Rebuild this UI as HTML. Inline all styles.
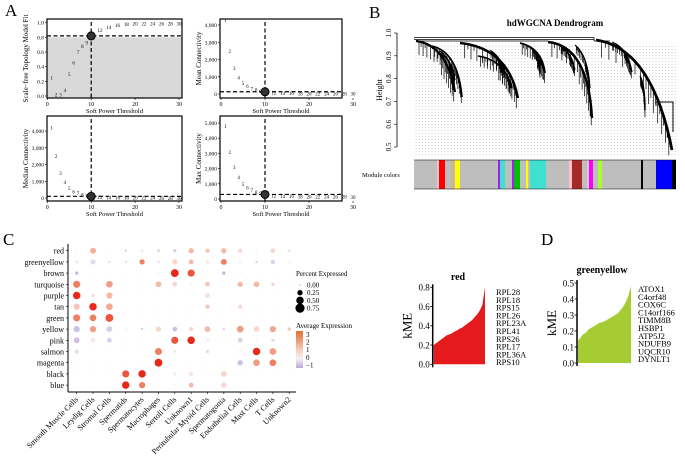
<!DOCTYPE html>
<html><head><meta charset="utf-8">
<style>
html,body{margin:0;padding:0;background:#fff;}
svg{display:block;font-family:"Liberation Serif",serif;}
</style></head>
<body>
<svg id="fig" width="685" height="468" viewBox="0 0 685 468" xmlns="http://www.w3.org/2000/svg"></svg>
<script>
// ---------- Panel A data ----------
const powers = [1,2,3,4,5,6,7,8,9,10,12,14,16,18,20,22,24,26,28,30];
const sftFit = [0.25,0.02,0.02,0.08,0.30,0.46,0.60,0.68,0.73,0.82,0.90,0.94,0.97,0.98,0.99,0.99,0.99,0.99,0.99,0.99];
const meanK = [4300,2500,1500,950,650,450,330,250,180,130,80,60,45,35,30,25,22,20,18,16];
const medianK = [4200,2500,1500,950,600,400,300,220,150,100,60,40,30,25,20,18,16,14,12,10];
const maxK = [4800,3100,2100,1450,1000,750,580,450,380,300,220,200,190,180,170,165,160,155,150,145];
// ---------- Panel C data ----------
const modules = ["red","greenyellow","brown","turquoise","purple","tan","green","yellow","pink","salmon","magenta","black","blue"];
const cellTypes = ["Smooth Muscle Cells","Leydig Cells","Stromal Cells","Spermatids","Spermatocytes","Macrophages","Sertoli Cells","Unknown1","Peritubular Myoid Cells","Spermatogonia","Endothelial Cells","Mast Cells","T Cells","Unknown2"];
const avgExpr = [
 [0,1.2,0,-0.5,-0.3,-0.3,-0.5,1,0.8,1,0.5,0,0.5,0.5],
 [-0.3,-0.3,-0.3,-0.3,2,-0.3,0.5,1,0.2,2,0,-0.5,-0.5,0],
 [-0.8,0,0,0,0,0,3,2.5,0,-0.8,0,0,0,0],
 [2,0,1.5,0,0,1,0.5,0,0.8,0,1,1,0.5,0],
 [3,0.5,1,0,0,0,0,0,0.3,0,0,0,0,0],
 [0.8,3,1.3,0,0,0,0,0,0.8,0,0.5,0,0,0],
 [2,2,2.5,0,0,0,0,0,0,0,0,0,0,0],
 [-0.7,1.5,-0.5,0,-0.5,0.5,-0.7,0.5,1,-0.5,1.5,0.5,1.3,0.8],
 [-0.7,0.2,-0.5,0,0,0,2.5,3,0.1,0,-0.5,0,-0.3,0],
 [-0.3,0,0,0,0,2,-0.3,0,0.5,0,0,3,1.5,0],
 [0,0,0,0,0,3,0,0,0,0,-0.7,1.5,2,0],
 [0,0,0,2.5,3,0,0.2,0.3,0,0.5,0,0,0,0],
 [0,0,0,3,2,0,0,1,0,0.5,0,0,0,0]
];
const pctExpr = [
 [0.05,0.3,0.05,0.05,0.05,0.1,0.1,0.25,0.15,0.25,0.15,0.05,0.2,0.05],
 [0.05,0.25,0.05,0.05,0.25,0.05,0.25,0.2,0.1,0.3,0.1,0.05,0.15,0.05],
 [0.1,0.02,0.02,0.02,0.02,0.05,0.55,0.45,0.02,0.1,0.05,0.02,0.02,0.02],
 [0.45,0.02,0.4,0.02,0.02,0.3,0.2,0.05,0.2,0.05,0.25,0.3,0.1,0.02],
 [0.5,0.1,0.35,0.02,0.02,0.02,0.02,0.02,0.25,0.02,0.02,0.02,0.02,0.02],
 [0.35,0.5,0.4,0.02,0.02,0.02,0.02,0.02,0.15,0.02,0.15,0.02,0.02,0.02],
 [0.45,0.4,0.55,0.02,0.02,0.02,0.02,0.02,0.02,0.02,0.02,0.02,0.02,0.02],
 [0.35,0.35,0.3,0.05,0.05,0.25,0.2,0.15,0.3,0.05,0.4,0.3,0.35,0.1],
 [0.3,0.2,0.2,0.02,0.02,0.02,0.45,0.5,0.1,0.05,0.2,0.05,0.1,0.02],
 [0.15,0.02,0.02,0.02,0.02,0.45,0.05,0.02,0.1,0.02,0.1,0.5,0.4,0.02],
 [0.02,0.02,0.02,0.02,0.02,0.55,0.02,0.02,0.02,0.02,0.25,0.4,0.4,0.02],
 [0.02,0.02,0.02,0.45,0.5,0.02,0.1,0.15,0.02,0.3,0.02,0.02,0.02,0.02],
 [0.02,0.02,0.02,0.5,0.35,0.02,0.05,0.2,0.02,0.25,0.02,0.02,0.02,0.02]
];
// ---------- Panel D data ----------
const redKME = [0.20,0.22,0.24,0.26,0.28,0.30,0.31,0.32,0.34,0.35,0.37,0.38,0.40,0.42,0.44,0.46,0.49,0.52,0.56,0.62,0.80];
const redGenes = ["RPL28","RPL18","RPS15","RPL26","RPL23A","RPL41","RPS26","RPL17","RPL36A","RPS10"];
const gyKME = [0.14,0.16,0.18,0.19,0.21,0.22,0.23,0.24,0.25,0.255,0.26,0.27,0.28,0.29,0.30,0.31,0.33,0.35,0.38,0.42,0.48];
const gyGenes = ["ATOX1","C4orf48","COX6C","C14orf166","TIMM8B","HSBP1","ATP5J2","NDUFB9","UQCR10","DYNLT1"];

const NS="http://www.w3.org/2000/svg";
const svg=document.getElementById('fig');
function mk(tag,attrs,name,parent,txt){
  const el=document.createElementNS(NS,tag);
  for(const k in attrs) el.setAttribute(k,attrs[k]);
  
  
  if(txt!==undefined) el.textContent=txt;
  (parent||svg).appendChild(el);
  return el;
}
function lin(d0,d1,r0,r1){return v=>r0+(v-d0)*(r1-r0)/(d1-d0);}

mk('text',{x:5,y:16,'font-size':17},'panel-label-a',svg,'A');
mk('text',{x:369,y:18,'font-size':17},'panel-label-b',svg,'B');
mk('text',{x:3,y:245,'font-size':17},'panel-label-c',svg,'C');
mk('text',{x:541,y:245,'font-size':17},'panel-label-d',svg,'D');

// ---------- Panel A ----------
function sftPanel(opt){
  const g=mk('g',{},opt.name);
  const X=lin(0,30,opt.x0,opt.x30), Y=lin(0,opt.ymax,opt.yb,opt.yt);
  if(opt.shade) mk('rect',{x:opt.L,y:Y(0.8),width:opt.R-opt.L,height:opt.B-Y(0.8),fill:'#d9d9d9'},'shaded-region',g);
  mk('rect',{x:opt.L,y:opt.T,width:opt.R-opt.L,height:opt.B-opt.T,fill:'none',stroke:'#000','stroke-width':1.2},'plot-frame',g);
  opt.yticks.forEach((t,i)=>{
    mk('line',{x1:opt.L-2,x2:opt.L,y1:Y(t),y2:Y(t),stroke:'#000','stroke-width':0.6},'y-tick',g);
    mk('text',{x:opt.L-3,y:Y(t)+2,'font-size':5.5,'text-anchor':'end'},'y-tick-label',g,opt.ylabels[i]);
  });
  [0,10,20,30].forEach(t=>{
    mk('line',{x1:X(t),x2:X(t),y1:opt.B,y2:opt.B+2,stroke:'#000','stroke-width':0.6},'x-tick',g);
    mk('text',{x:X(t),y:opt.B+8,'font-size':6,'text-anchor':'middle'},'x-tick-label',g,String(t));
  });
  mk('text',{x:(opt.L+opt.R)/2,y:opt.B+15,'font-size':6.5,'text-anchor':'middle'},'x-axis-title',g,'Soft Power Threshold');
  mk('text',{x:0,y:0,'font-size':7,'text-anchor':'middle',transform:`translate(${opt.L-19},${(opt.T+opt.B)/2}) rotate(-90)`},'y-axis-title',g,opt.ytitle);
  const hy=Y(opt.hline);
  mk('line',{x1:opt.L,x2:opt.R,y1:hy,y2:hy,stroke:'#000','stroke-width':1.2,'stroke-dasharray':'4,2.5'},'threshold-hline',g);
  mk('line',{x1:X(10),x2:X(10),y1:opt.T+3,y2:opt.B,stroke:'#000','stroke-width':1.2,'stroke-dasharray':'4,2.5'},'threshold-vline',g);
  opt.vals.forEach((v,i)=>{
    const p=powers[i];
    if(p===10){
      mk('circle',{cx:X(p),cy:Y(v),r:4,fill:'#333',stroke:'#000','stroke-width':1},'selected-power-marker',g);
    } else {
      mk('text',{x:X(p),y:Y(v)+2,'font-size':5,'text-anchor':'middle'},'power-label',g,String(p));
    }
  });
}
sftPanel({name:'sft-fit-plot',L:47,R:182,T:19,B:98,x0:47.3,x30:179,yb:96,yt:22.7,ymax:1,shade:true,hline:0.82,
  yticks:[0,0.2,0.4,0.6,0.8,1.0],ylabels:['0.0','0.2','0.4','0.6','0.8','1.0'],ytitle:'Scale−free Topology Model Fit',vals:sftFit});
sftPanel({name:'mean-connectivity-plot',L:220,R:342,T:19,B:98,x0:221,x30:353,yb:94,yt:25,ymax:4000,hline:130,
  yticks:[0,1000,2000,3000,4000],ylabels:['0','1,000','2,000','3,000','4,000'],ytitle:'Mean Connectivity',vals:meanK});
sftPanel({name:'median-connectivity-plot',L:47,R:182,T:116,B:201,x0:47.3,x30:179,yb:198,yt:131,ymax:4000,hline:100,
  yticks:[0,1000,2000,3000,4000],ylabels:['0','1,000','2,000','3,000','4,000'],ytitle:'Median Connectivity',vals:medianK});
sftPanel({name:'max-connectivity-plot',L:220,R:342,T:116,B:201,x0:221,x30:353,yb:199,yt:123,ymax:5000,hline:300,
  yticks:[0,1000,2000,3000,4000,5000],ylabels:['0','1,000','2,000','3,000','4,000','5,000'],ytitle:'Max Connectivity',vals:maxK});

// ---------- Panel B ----------
(function(){
  const g=mk('g',{},'dendrogram-panel');
  const Y=lin(0.5,1.0,147,33);
  mk('text',{x:555,y:26,'font-size':9,'font-weight':'bold','text-anchor':'middle'},'dendrogram-title',g,'hdWGCNA Dendrogram');
  mk('line',{x1:397,x2:397,y1:Y(1.0),y2:Y(0.5),stroke:'#000','stroke-width':0.8},'height-axis',g);
  [0.5,0.6,0.7,0.8,0.9,1.0].forEach(t=>{
    mk('line',{x1:394,x2:397,y1:Y(t),y2:Y(t),stroke:'#000','stroke-width':0.6},'height-tick',g);
    mk('text',{x:0,y:0,'font-size':7,'text-anchor':'middle',transform:`translate(391,${Y(t)}) rotate(-90)`},'height-tick-label',g,t.toFixed(1));
  });
  mk('text',{x:0,y:0,'font-size':8,'text-anchor':'middle',transform:`translate(382,90) rotate(-90)`},'height-axis-title',g,'Height');
  for(let x=416;x<676;x+=3.2){
    mk('line',{x1:x,x2:x,y1:46,y2:156,stroke:'#777','stroke-width':0.5,'stroke-dasharray':'0.7,2.3'},'leaf-guide',g);
  }
  mk('path',{d:'M414,37.5 H594 M414,39.5 H594 M416,41 H548 M594,37.5 V41 M594,41 H610',fill:'none',stroke:'#000','stroke-width':0.8},'dendrogram-top-links',g);
  // main curves as quadratic beziers [x0,y0,cx,cy,x1,y1,width]
  const curves=[
    [416,41,447,45,455,92,2.2],[432,46,458,52,462,97,1.6],[440,51,452,60,455,80,1.2],
    [460,43,508,48,518,98,2.4],[478,56,505,60,512,88,1.6],[490,50,500,56,505,70,1.0],
    [520,43,542,48,545,73,1.8],[532,48,540,55,540,72,1.0],
    [548,42,588,46,592,118,2.4],[575,45,588,55,590,88,1.2],[560,46,572,52,575,70,1.0],
    [596,40,652,48,672,150,2.8],[612,42,628,48,632,72,1.2],[640,76,645,85,645,110,1.4]
  ];
  curves.forEach(c=>{
    mk('path',{d:`M${c[0]},${c[1]} Q${c[2]},${c[3]} ${c[4]},${c[5]}`,fill:'none',stroke:'#000','stroke-width':c[6]},'dendrogram-branch',g);
    // hanging leaves along the curve
    let hair='';
    for(let t=0.05;t<0.95;t+=0.035){
      const x=(1-t)*(1-t)*c[0]+2*t*(1-t)*c[2]+t*t*c[4];
      const y=(1-t)*(1-t)*c[1]+2*t*(1-t)*c[3]+t*t*c[5];
      const L=2+((Math.floor(t*97)%7))*1.3*c[6];
      hair+=`M${x.toFixed(1)},${y.toFixed(1)} V${(y+L).toFixed(1)} `;
    }
    mk('path',{d:hair,fill:'none',stroke:'#000','stroke-width':0.7},'dendrogram-leaves',g);
  });
  mk('path',{d:'M656,102 H673 V132 M656,102 V106',fill:'none',stroke:'#000','stroke-width':1},'dendrogram-branch-right',g);
  const bx0=414,bx1=676;
  mk('rect',{x:bx0,y:160,width:bx1-bx0,height:29,fill:'#bebebe'},'module-color-bar',g);
  const segs=[[437,439,'#ffc0cb'],[439,445,'#ff0000'],[451,454,'#d2b48c'],[455,460,'#ffff00'],[498,500,'#a020f0'],[500,505,'#40e0d0'],[512,514,'#a020f0'],[514,520,'#00c000'],[526,528,'#ffff00'],[530,546,'#40e0d0'],[569,572,'#ffc0cb'],[572,582,'#a52a2a'],[587,589,'#ffc0cb'],[589,593,'#ff00ff'],[598,602,'#adff2f'],[641,643,'#000000'],[656,672,'#0000ff'],[672,676,'#000000']];
  segs.forEach(s=>mk('rect',{x:s[0],y:160,width:s[1]-s[0],height:29,fill:s[2]},'module-segment',g));
  mk('line',{x1:bx0,x2:bx1,y1:160,y2:160,stroke:'#000','stroke-width':0.6},'bar-border-top',g);
  mk('line',{x1:bx0,x2:bx1,y1:189,y2:189,stroke:'#000','stroke-width':0.6},'bar-border-bottom',g);
  mk('text',{x:362,y:177,'font-size':6.5,'text-anchor':'start'},'module-colors-label',g,'Module colors');
})();

// ---------- Panel C ----------
(function(){
  const g=mk('g',{},'dotplot-panel');
  const X=i=>76.7+i*16.35, Y=j=>250.7+j*11.2;
  mk('line',{x1:68,x2:68,y1:244,y2:392,stroke:'#000','stroke-width':1},'y-axis-line',g);
  mk('line',{x1:68,x2:296,y1:392,y2:392,stroke:'#000','stroke-width':1},'x-axis-line',g);
  function col(v){
    const pos=[[-1,[185,170,220]],[0,[250,244,244]],[1,[244,186,168]],[2,[238,128,98]],[3,[232,40,24]]];
    v=Math.max(-1,Math.min(3,v));
    for(let k=0;k<pos.length-1;k++){
      if(v<=pos[k+1][0]){const t=(v-pos[k][0]);const a=pos[k][1],b=pos[k+1][1];
        return `rgb(${a.map((c,i)=>Math.round(c+(b[i]-c)*t)).join(',')})`;}
    }
  }
  modules.forEach((m,j)=>{
    mk('text',{x:64,y:Y(j)+3,'font-size':8,'text-anchor':'end'},'module-label',g,m);
    mk('line',{x1:66,x2:68,y1:Y(j),y2:Y(j),stroke:'#000','stroke-width':0.6},'y-tick',g);
    cellTypes.forEach((c,i)=>{
      const r=5.3*Math.sqrt(pctExpr[j][i]);
      mk('circle',{cx:X(i),cy:Y(j),r:Math.max(r,0.6),fill:col(avgExpr[j][i])},'dot-'+m+'-'+i,g);
    });
  });
  cellTypes.forEach((c,i)=>{
    mk('line',{x1:X(i),x2:X(i),y1:392,y2:394,stroke:'#000','stroke-width':0.6},'x-tick',g);
    mk('text',{x:0,y:0,'font-size':8,'text-anchor':'end',transform:`translate(${X(i)+2},${400}) rotate(-45)`},'cell-type-label',g,c);
  });
  mk('text',{x:296,y:276,'font-size':7},'size-legend-title',g,'Percent Expressed');
  [[0,'0.00'],[0.25,'0.25'],[0.5,'0.50'],[0.75,'0.75']].forEach((p,k)=>{
    const yy=285+k*7.7;
    mk('circle',{cx:300,cy:yy,r:Math.max(5.3*Math.sqrt(p[0]),0.4),fill:'#000'},'size-legend-dot',g);
    mk('text',{x:307,y:yy+2.5,'font-size':7},'size-legend-label',g,p[1]);
  });
  mk('text',{x:296,y:328,'font-size':7},'color-legend-title',g,'Average Expression');
  const defs=mk('defs',{},'defs',g);
  const lg=mk('linearGradient',{id:'cbar',x1:0,y1:0,x2:0,y2:1},'colorbar-gradient',defs);
  [[0,'#e0702e'],[0.25,'#ec9a72'],[0.5,'#f5cdbd'],[0.75,'#f7f0f2'],[1,'#b9a9d9']].forEach(s=>mk('stop',{offset:s[0],'stop-color':s[1]},'gradient-stop',lg));
  mk('rect',{x:296,y:331,width:7,height:37,fill:'url(#cbar)'},'colorbar',g);
  ['3','2','1','0','−1'].forEach((t,k)=>mk('text',{x:306,y:337+k*7.6,'font-size':7},'colorbar-label',g,t));
})();

// ---------- Panel D ----------
function kmePanel(o){
  const g=mk('g',{},o.name);
  const Y=lin(0,o.ymax,o.y0,o.ytop);
  const X=lin(0,o.vals.length-1,o.ax+1,o.xr);
  let d=`M${o.ax+1},${o.y0}`;
  o.vals.forEach((v,i)=>{d+=` L${X(i)},${Y(v)}`;});
  d+=` L${o.xr},${o.y0} Z`;
  mk('path',{d:d,fill:o.color},'kme-area',g);
  mk('line',{x1:o.ax,x2:o.ax,y1:o.ytop-3,y2:o.y0+3,stroke:'#000','stroke-width':1.5},'kme-y-axis',g);
  o.ticks.forEach(t=>{
    mk('line',{x1:o.ax-2.5,x2:o.ax,y1:Y(t),y2:Y(t),stroke:'#000','stroke-width':0.8},'kme-tick',g);
    mk('text',{x:o.ax-3,y:Y(t)+3.3,'font-size':9,'text-anchor':'end'},'kme-tick-label',g,t.toFixed(1));
  });
  mk('text',{x:0,y:0,'font-size':13,'text-anchor':'middle',transform:`translate(${o.ax-21},${(o.y0+o.ytop)/2}) rotate(-90)`},'kme-axis-title',g,'kME');
  mk('text',{x:o.tx,y:o.ty,'font-size':10,'font-weight':'bold','text-anchor':'middle'},'kme-title',g,o.title);
  o.genes.forEach((s,i)=>mk('text',{x:o.gx,y:o.gy+i*o.gs,'font-size':8.5},'gene-label',g,s));
}
kmePanel({name:'red-kme-plot',vals:redKME,genes:redGenes,color:'#e41a1c',ax:432.7,xr:485,y0:364.3,ytop:287.3,ymax:0.8,ticks:[0,0.2,0.4,0.6,0.8],title:'red',tx:458,ty:280,gx:496,gy:295,gs:7.8});
kmePanel({name:'greenyellow-kme-plot',vals:gyKME,genes:gyGenes,color:'#a6cc33',ax:577,xr:631,y0:363,ytop:283,ymax:0.5,ticks:[0,0.1,0.2,0.3,0.4,0.5],title:'greenyellow',tx:602,ty:273,gx:638,gy:292,gs:7.8});
</script>
</body></html>
